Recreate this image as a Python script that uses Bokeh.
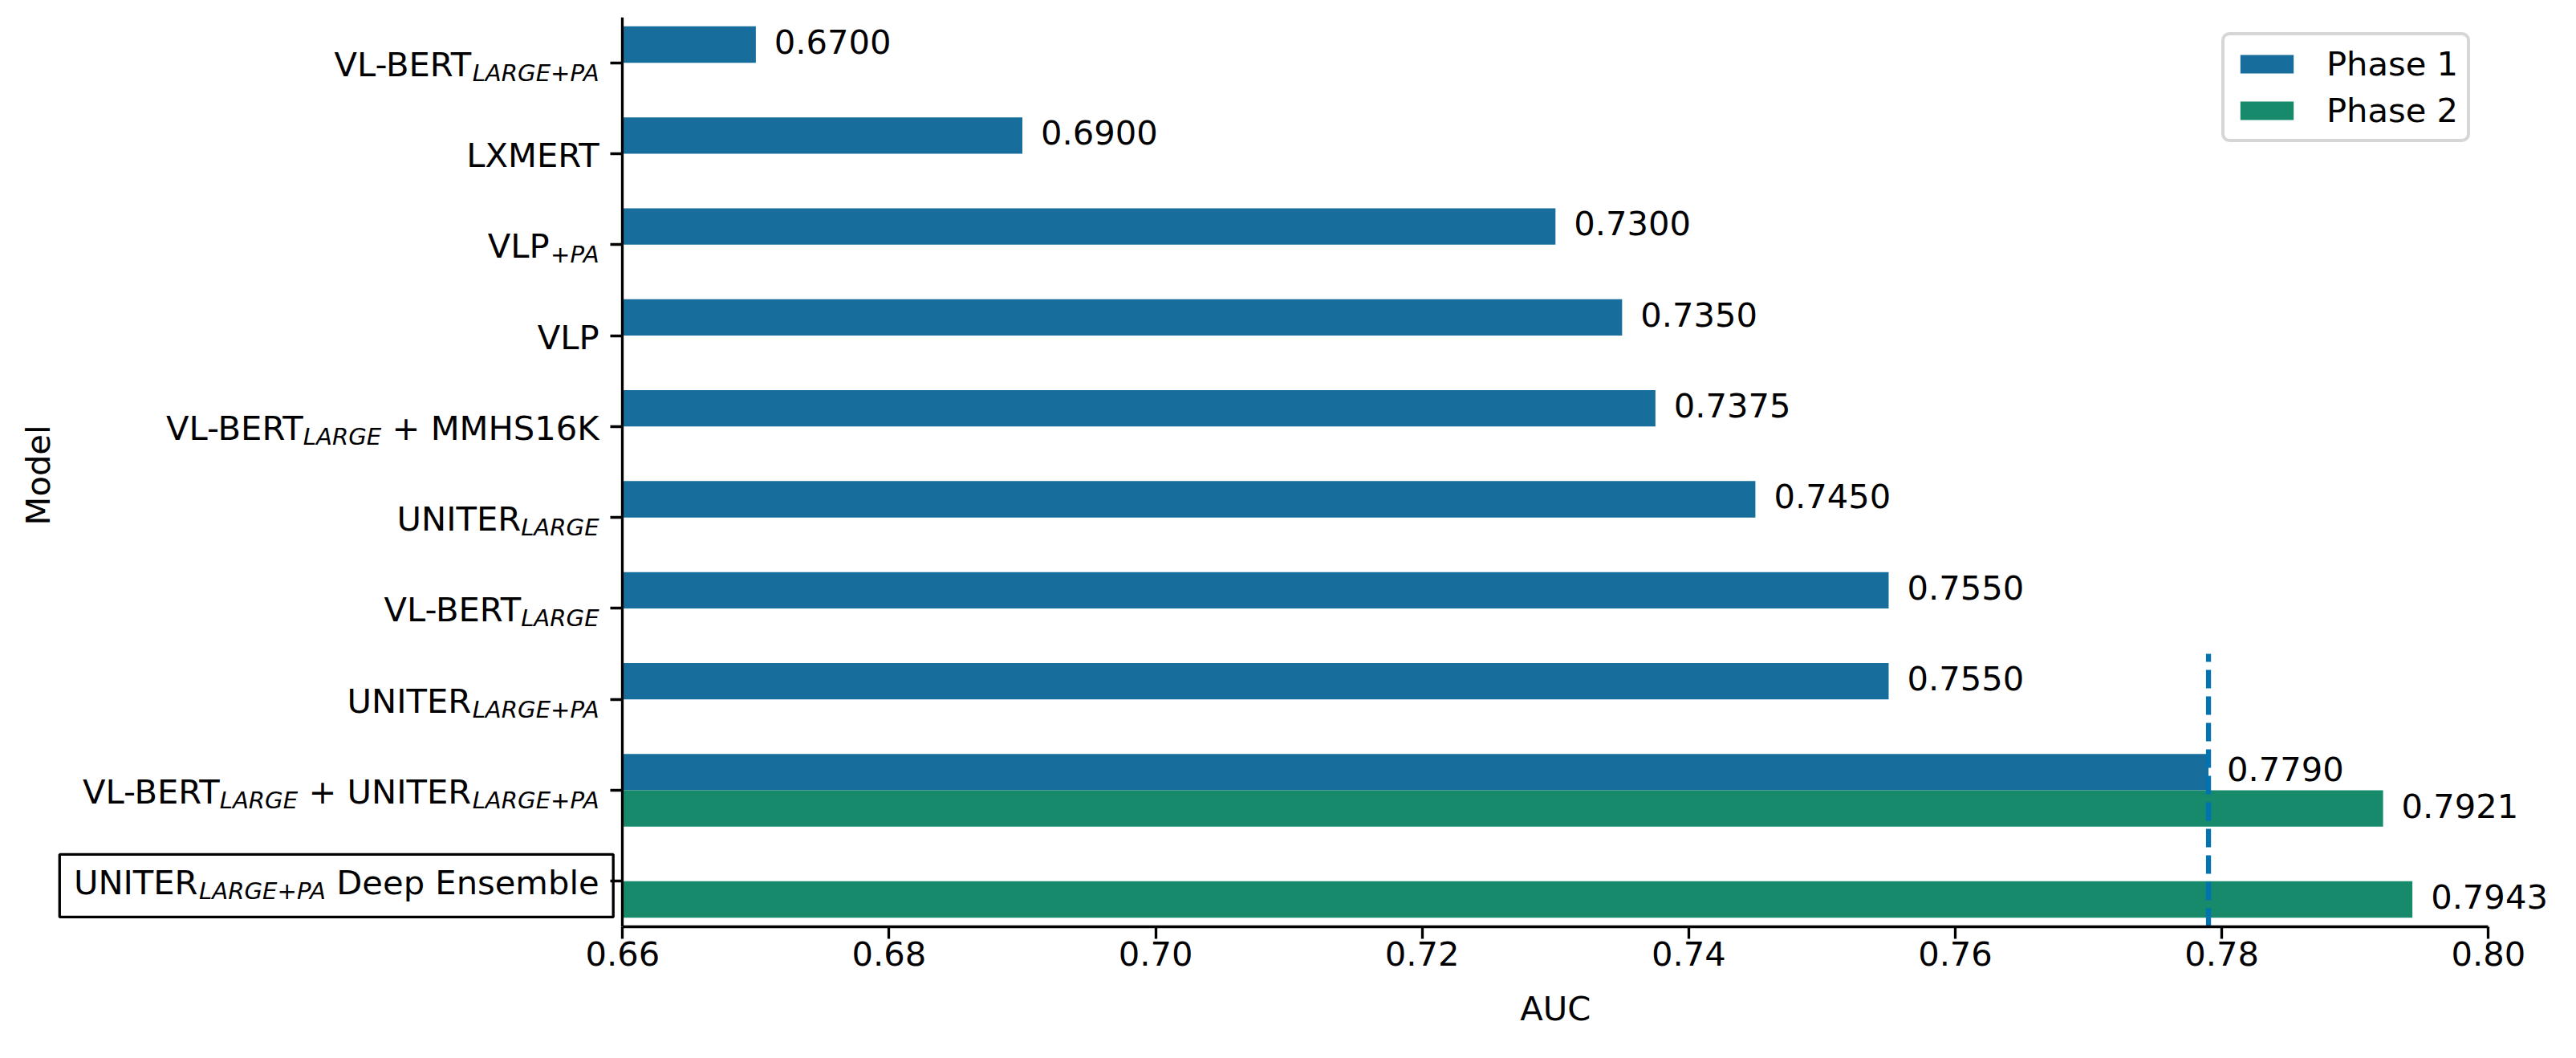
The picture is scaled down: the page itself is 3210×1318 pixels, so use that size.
import math
from bokeh.plotting import figure
from bokeh.layouts import column
from bokeh.models import (ColumnDataSource, LabelSet, BoxAnnotation, FixedTicker,
                          PrintfTickFormatter, Range1d, FactorRange,
                          CustomLabelingPolicy)
from bokeh.transform import dodge
from bokeh.core.properties import value
from bokeh.embed import file_html
from bokeh.resources import INLINE

# ---------------- data ----------------
models = ["VL-BERT LARGE+PA", "LXMERT", "VLP +PA", "VLP", "VL-BERT LARGE + MMHS16K",
          "UNITER LARGE", "VL-BERT LARGE", "UNITER LARGE+PA",
          "VL-BERT LARGE + UNITER LARGE+PA", "UNITER LARGE+PA Deep Ensemble"]
# label pieces: (text, "n" = normal, "s" = italic subscript)
label_pieces = [
    [("VL-BERT", "n"), ("LARGE+PA", "s")],
    [("LXMERT", "n")],
    [("VLP", "n"), ("+PA", "s")],
    [("VLP", "n")],
    [("VL-BERT", "n"), ("LARGE", "s"), (" + MMHS16K", "n")],
    [("UNITER", "n"), ("LARGE", "s")],
    [("VL-BERT", "n"), ("LARGE", "s")],
    [("UNITER", "n"), ("LARGE+PA", "s")],
    [("VL-BERT", "n"), ("LARGE", "s"), (" + UNITER", "n"), ("LARGE+PA", "s")],
    [("UNITER", "n"), ("LARGE+PA", "s"), (" Deep Ensemble", "n")],
]
phase1 = [0.6700, 0.6900, 0.7300, 0.7350, 0.7375, 0.7450, 0.7550, 0.7550, 0.7790, None]
phase2 = [None, None, None, None, None, None, None, None, 0.7921, 0.7943]
series_names = ["Phase 1", "Phase 2"]
x_ticks = [0.66, 0.68, 0.70, 0.72, 0.74, 0.76, 0.78, 0.80]
highlighted = "UNITER LARGE+PA Deep Ensemble"
x_title, y_title = "AUC", "Model"

# ---------------- style / layout ----------------
C1, C2, CREF = "#176D9C", "#168A6A", "#0173B2"
FONT = "DejaVu Sans"
FS = 41.67
SUB = FS * 0.7
W_FIG, H_TOTAL = 3194, 1302
H_MAIN = 1225
H_TITLE = H_TOTAL - H_MAIN
BL, BR, BT = 20, 10, 21
FH = 1133
BB = H_MAIN - BT - FH
FW = W_FIG - BL - BR
AXIS_PX_LEFT, AXIS_PX_RIGHT = 775.3, 3100.3      # where x0 / x1 sit on the canvas
TITLE_BASELINE = 1270.3                          # canvas y of the x-title baseline
LW = 3.33

# DejaVu Sans advance widths (units per em = 2048)
ADV = {" ": 651, "+": 1716, "-": 739, "A": 1401, "B": 1405, "C": 1430, "D": 1577,
       "E": 1294, "G": 1579, "H": 1540, "I": 604, "K": 1343, "L": 1141, "M": 1767,
       "N": 1532, "P": 1235, "R": 1423, "S": 1300, "T": 1251, "U": 1499, "V": 1401,
       "X": 1403, "b": 1300, "e": 1260, "l": 569, "m": 1995, "n": 1298, "p": 1300,
       "s": 1067}
for d in "0123456789":
    ADV[d] = 1303


def text_w(s, size):
    return sum(ADV.get(c, 1250) for c in s) / 2048.0 * size


x0, x1 = x_ticks[0], x_ticks[-1]
px_x = (AXIS_PX_RIGHT - AXIS_PX_LEFT) / (x1 - x0)
view_start = x0 - (AXIS_PX_LEFT - BL) / px_x
view_end = x1 + ((W_FIG - BR) - AXIS_PX_RIGHT) / px_x
factors = list(reversed(models))

p = figure(width=W_FIG, height=H_MAIN, output_backend="svg", toolbar_location=None,
           x_range=Range1d(view_start, view_end), y_range=FactorRange(factors=factors),
           min_border_left=BL, min_border_right=BR, min_border_top=BT, min_border_bottom=BB)
p.outline_line_color = None
p.grid.visible = False
p.background_fill_color = "white"
p.border_fill_color = "white"

# bars
src1 = ColumnDataSource(dict(model=[m for m, v in zip(models, phase1) if v is not None],
                             v=[v for v in phase1 if v is not None]))
src2 = ColumnDataSource(dict(model=[m for m, v in zip(models, phase2) if v is not None],
                             v=[v for v in phase2 if v is not None]))
for s in (src1, src2):
    s.data["lab"] = ["%.4f" % v for v in s.data["v"]]

p.hbar(y=dodge("model", 0.2, range=p.y_range), left=x0, right="v", height=0.4,
       source=src1, fill_color=C1, line_color=None, legend_label=series_names[0])
p.hbar(y=dodge("model", -0.2, range=p.y_range), left=x0, right="v", height=0.4,
       source=src2, fill_color=C2, line_color=None, legend_label=series_names[1])

# reference line at best phase-1 score (0 .. 30% of the axis height)
best1 = max(v for v in phase1 if v is not None)
p.segment(x0=best1, x1=best1, y0=0, y1=0.3 * len(models), line_color=CREF,
          line_width=6.25, line_dash="23 10", line_cap="butt")

# value labels
for s, off in ((src1, 0.2), (src2, -0.2)):
    p.add_layout(LabelSet(x="v", y=dodge("model", off, range=p.y_range), text="lab",
                          source=s, x_offset=23, y_offset=-11.3,
                          text_font=value(FONT), text_font_size="%.2fpx" % FS,
                          text_align="left", text_baseline="alphabetic",
                          text_color="black"))

# category labels with subscripts
LABEL_GAP = 29.2
main = dict(y=[], x=[], xo=[], t=[])
sub = dict(y=[], x=[], xo=[], t=[])
total_w = {}
for m, pieces in zip(models, label_pieces):
    acc = LABEL_GAP
    for txt, kind in reversed(pieces):
        size = FS if kind == "n" else SUB
        dst = main if kind == "n" else sub
        dst["y"].append(m)
        dst["x"].append(x0)
        dst["xo"].append(-acc)
        dst["t"].append(txt.lstrip())
        acc += text_w(txt, size)
    total_w[m] = acc - LABEL_GAP

p.add_layout(LabelSet(x="x", y="y", text="t", x_offset="xo", y_offset=-16.5,
                      source=ColumnDataSource(main), text_font=value(FONT),
                      text_font_size="%.2fpx" % FS, text_align="right",
                      text_baseline="alphabetic", text_color="black"))
p.add_layout(LabelSet(x="x", y="y", text="t", x_offset="xo", y_offset=-22.5,
                      source=ColumnDataSource(sub), text_font=value(FONT),
                      text_font_size="%.2fpx" % SUB, text_font_style="italic",
                      text_align="right", text_baseline="alphabetic", text_color="black"))

# y title
p.add_layout(LabelSet(x="x", y="y", text="t",
                      source=ColumnDataSource(dict(x=[x0], y=[len(models) / 2.0], t=[y_title])),
                      x_offset=-714, y_offset=-4, angle=math.pi / 2, text_font=value(FONT),
                      text_font_size="%.2fpx" % FS, text_align="center",
                      text_baseline="alphabetic", text_color="black"))

# box around the highlighted label
px_y = FH / len(models)
pad = 17.6
c = factors.index(highlighted) + 0.5
p.add_layout(BoxAnnotation(left=x0 - (LABEL_GAP + total_w[highlighted] + pad) / px_x,
                           right=x0 - (LABEL_GAP - pad) / px_x,
                           bottom=c - 44.6 / px_y, top=c + 33.4 / px_y,
                           fill_color=None, line_color="black", line_alpha=1.0,
                           line_width=LW))

# axes
xa = p.xaxis[0]
xa.ticker = FixedTicker(ticks=x_ticks)
xa.formatter = PrintfTickFormatter(format="%.2f")
xa.bounds = (x0, x1)
ya = p.yaxis[0]
ya.fixed_location = x0
ya.major_label_policy = CustomLabelingPolicy(code="return")
for ax in (xa, ya):
    ax.axis_line_width = LW
    ax.major_tick_line_width = LW
    ax.major_tick_out = 15
    ax.major_tick_in = 0
    ax.minor_tick_line_color = None
    ax.major_label_text_font = FONT
    ax.major_label_text_font_size = "%.2fpx" % FS
    ax.major_label_text_color = "black"
xa.major_label_standoff = 3
ya.major_label_standoff = 0

# legend
lg = p.legend[0]
lg.location = (2768 - BL, (BT + FH) - 177)
lg.padding = 11
lg.spacing = 9
lg.glyph_width = 83
lg.glyph_height = 29
lg.label_standoff = 33
lg.label_text_font = FONT
lg.label_text_font_size = "%.2fpx" % FS
lg.label_text_color = "black"
lg.border_line_color = "#cccccc"
lg.border_line_alpha = 0.8
lg.border_line_width = 4.17
lg.background_fill_alpha = 0.8
if "border_radius" in lg.properties():
    lg.border_radius = 10

# x title strip, sharing the x scale so the title sits under the middle of the axis
p2 = figure(width=W_FIG, height=H_TITLE, output_backend="svg", toolbar_location=None,
            x_range=p.x_range, y_range=Range1d(0, 1), x_axis_type=None, y_axis_type=None,
            min_border_left=BL, min_border_right=BR, min_border_top=0, min_border_bottom=0)
p2.outline_line_color = None
p2.grid.visible = False
p2.background_fill_color = "white"
p2.border_fill_color = "white"
p2.add_layout(LabelSet(x="x", y="y", text="t",
                       source=ColumnDataSource(dict(x=[(x0 + x1) / 2.0], y=[0.0], t=[x_title])),
                       y_offset=H_TOTAL - TITLE_BASELINE, text_font=value(FONT),
                       text_font_size="%.2fpx" % FS, text_align="center",
                       text_baseline="alphabetic", text_color="black"))

open("out.html", "w").write(file_html(column(p, p2, spacing=0), INLINE))
